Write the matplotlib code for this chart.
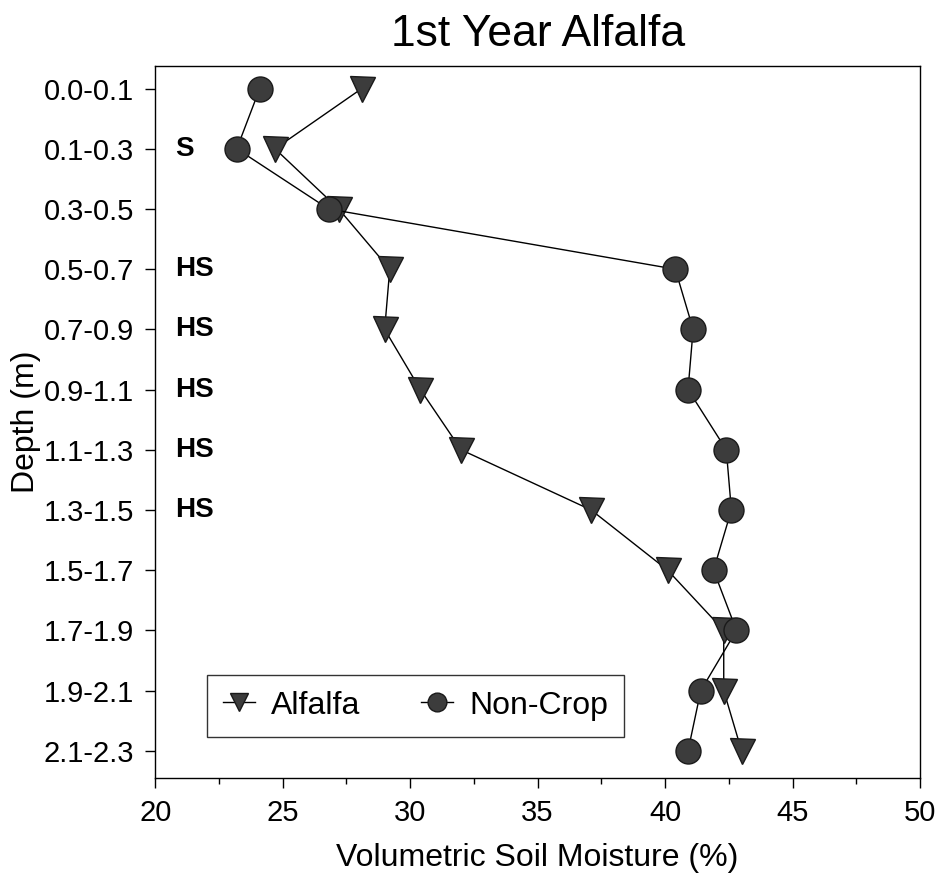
import numpy as np
import matplotlib
matplotlib.use("Agg")
import matplotlib.pyplot as plt
from matplotlib.ticker import MultipleLocator

plt.rcParams["font.family"] = ["Liberation Sans", "DejaVu Sans"]

depths = ["0.0-0.1", "0.1-0.3", "0.3-0.5", "0.5-0.7", "0.7-0.9", "0.9-1.1",
          "1.1-1.3", "1.3-1.5", "1.5-1.7", "1.7-1.9", "1.9-2.1", "2.1-2.3"]
alfalfa = [28.1, 24.7, 27.2, 29.2, 29.0, 30.4, 32.0, 37.1, 40.1, 42.3, 42.3, 43.0]
noncrop = [24.1, 23.2, 26.8, 40.4, 41.1, 40.9, 42.4, 42.6, 41.9, 42.8, 41.4, 40.9]
# significance flags per depth
signif = ["", "S", "", "HS", "HS", "HS", "HS", "HS", "", "", "", ""]

y = np.arange(len(depths))

fig = plt.figure(figsize=(9.35, 8.88), dpi=100)
ax = fig.add_axes([0.166, 0.124, 0.818, 0.802])

mk = dict(color="black", lw=1.0, markerfacecolor="#3c3c3c",
          markeredgecolor="#1a1a1a", markeredgewidth=1.0)
ax.plot(alfalfa, y, marker="v", markersize=18, label="Alfalfa", zorder=3, **mk)
ax.plot(noncrop, y, marker="o", markersize=18, label="Non-Crop", zorder=3, **mk)

for yi, s in zip(y, signif):
    if s:
        ax.text(0.026, yi, s, transform=ax.get_yaxis_transform(), ha="left",
                va="center", fontsize=20, fontweight="bold")

ax.set_xlim(20, 50)
ax.set_ylim(11.45, -0.38)
ax.set_yticks(y)
ax.set_yticklabels(depths)
ax.xaxis.set_major_locator(MultipleLocator(5))
ax.xaxis.set_minor_locator(MultipleLocator(2.5))
ax.tick_params(axis="both", which="major", direction="out", length=7,
               width=1, pad=8, labelsize=21)
ax.tick_params(axis="x", which="minor", direction="out", length=4, width=1)
for sp in ax.spines.values():
    sp.set_linewidth(1.0)

ax.set_xlabel("Volumetric Soil Moisture (%)", fontsize=23, labelpad=12)
ax.set_ylabel("Depth (m)", fontsize=23, labelpad=2)
ax.set_title("1st Year Alfalfa", fontsize=32, pad=14)

leg = ax.legend(loc="lower left", bbox_to_anchor=(0.068, 0.058), ncol=2,
                fontsize=23, frameon=True, fancybox=False, borderaxespad=0,
                handlelength=1.0, handletextpad=0.5, columnspacing=1.9,
                borderpad=0.5, markerscale=0.75)
leg.get_frame().set_edgecolor("black")
leg.get_frame().set_linewidth(1.0)

fig.savefig("out.png", dpi=100)
